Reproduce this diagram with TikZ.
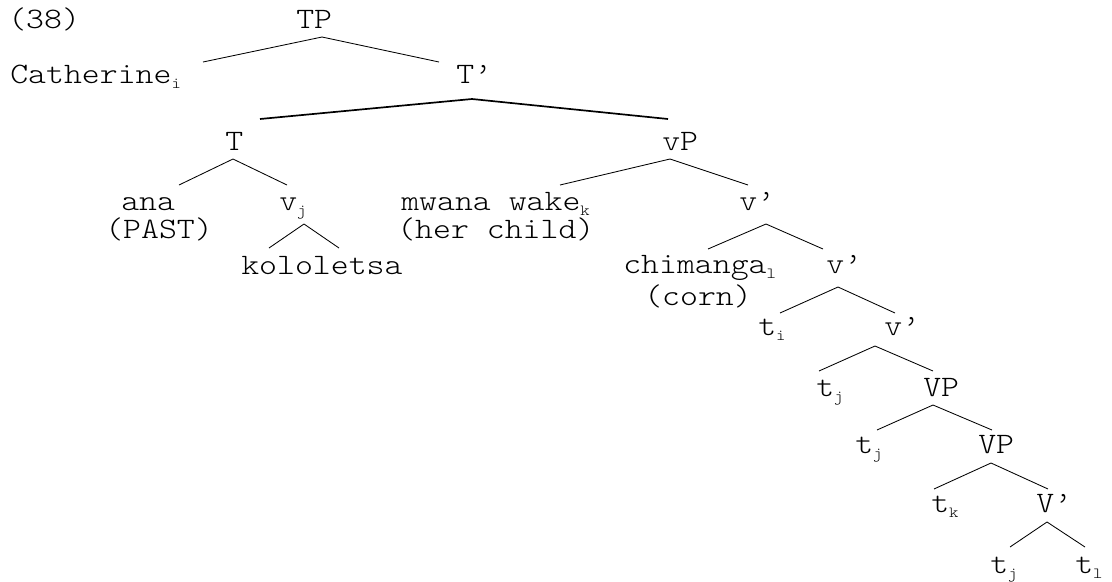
\documentclass[tikz,border=0pt]{standalone}
\usepackage{fontspec}
\newfontfamily\treefont{Latin Modern Mono Light}[FakeStretch=1.15]
\usepackage{tikz}
\usetikzlibrary{calc}
\newcommand{\idx}[1]{\raisebox{-4pt}{\fontsize{11}{11}\selectfont #1}}

\begin{document}
\begin{tikzpicture}[
    x=0.025cm, y=-0.025cm,
    wordNode/.style={anchor=base west, inner sep=0pt, font=\treefont\fontsize{21.1}{25}\selectfont},
    branchLine/.style={draw=black, line width=0.6pt},
    heavyBranch/.style={draw=black, line width=1.2pt}
]
\useasboundingbox (0,0) rectangle (1112,581);

% Top of the tree
\node[wordNode] (exNum) at (8, 28) {(38)};
\node[wordNode] (tp) at (296, 28) {TP};
\node[wordNode] (cath) at (10, 83) {Catherine\idx{i}};
\node[wordNode] (tBar) at (456, 83) {T’};
\draw[branchLine] ($(tp.base west)+(26,9)$) -- ($(cath.base west)+(193,-21)$);
\draw[branchLine] ($(tp.base west)+(26,9)$) -- ($(tBar.base west)+(-17,-21)$);

% T and vP
\node[wordNode] (tHead) at (225, 150) {T};
\node[wordNode] (vP) at (662, 150) {vP};
\draw[heavyBranch] ($(tBar.base west)+(16,16)$) -- ($(tHead.base west)+(35,-31)$);
\draw[heavyBranch] ($(tBar.base west)+(16,16)$) -- ($(vP.base west)+(6,-31)$);

% Under T
\node[wordNode] (ana) at (121, 210) {ana};
\node[wordNode] (past) at (105, 238) {(PAST)};
\node[wordNode] (vj) at (279, 210) {v\idx{j}};
\node[wordNode] (kolo) at (241, 274) {kololetsa};
\draw[branchLine] ($(tHead.base west)+(8,9)$) -- ($(ana.base west)+(58,-25)$);
\draw[branchLine] ($(tHead.base west)+(8,9)$) -- ($(vj.base west)+(8,-25)$);
\draw[branchLine] ($(vj.base west)+(25,14)$) -- ($(kolo.base west)+(28,-26)$);
\draw[branchLine] ($(vj.base west)+(25,14)$) -- ($(kolo.base west)+(98,-26)$);

% Under vP
\node[wordNode] (mwana) at (401, 210) {mwana wake\idx{k}};
\node[wordNode] (child) at (397, 238) {(her child)};
\node[wordNode] (vBarA) at (739, 210) {v’};
\draw[branchLine] ($(vP.base west)+(8,9)$) -- ($(mwana.base west)+(159,-25)$);
\draw[branchLine] ($(vP.base west)+(8,9)$) -- ($(vBarA.base west)+(9,-25)$);

\node[wordNode] (chim) at (623, 273) {chimanga\idx{l}};
\node[wordNode] (corn) at (644, 305) {(corn)};
\node[wordNode] (vBarB) at (826, 273) {v’};
\draw[branchLine] ($(vBarA.base west)+(27,14)$) -- ($(chim.base west)+(85,-24)$);
\draw[branchLine] ($(vBarA.base west)+(27,14)$) -- ($(vBarB.base west)+(-3,-24)$);

\node[wordNode] (ti) at (758, 335) {t\idx{i}};
\node[wordNode] (vBarC) at (884, 335) {v’};
\draw[branchLine] ($(vBarB.base west)+(12,14)$) -- ($(ti.base west)+(22,-22)$);
\draw[branchLine] ($(vBarB.base west)+(12,14)$) -- ($(vBarC.base west)+(11,-22)$);

% The VP shells
\node[wordNode] (tjA) at (816, 396) {t\idx{j}};
\node[wordNode] (vpA) at (923, 396) {VP};
\draw[branchLine] ($(vBarC.base west)+(-9,11)$) -- ($(tjA.base west)+(3,-25)$);
\draw[branchLine] ($(vBarC.base west)+(-9,11)$) -- ($(vpA.base west)+(10,-25)$);

\node[wordNode] (tjB) at (855, 453) {t\idx{j}};
\node[wordNode] (vpB) at (978, 453) {VP};
\draw[branchLine] ($(vpA.base west)+(10,9)$) -- ($(tjB.base west)+(22,-23)$);
\draw[branchLine] ($(vpA.base west)+(10,9)$) -- ($(vpB.base west)+(14,-23)$);

\node[wordNode] (tk) at (931, 512) {t\idx{k}};
\node[wordNode] (vBarD) at (1036, 512) {V’};
\draw[branchLine] ($(vpB.base west)+(13,10)$) -- ($(tk.base west)+(3,-23)$);
\draw[branchLine] ($(vpB.base west)+(13,10)$) -- ($(vBarD.base west)+(12,-23)$);

\node[wordNode] (tjC) at (990, 573) {t\idx{j}};
\node[wordNode] (tl) at (1075, 573) {t\idx{l}};
\draw[branchLine] ($(vBarD.base west)+(11,10)$) -- ($(tjC.base west)+(20,-26)$);
\draw[branchLine] ($(vBarD.base west)+(11,10)$) -- ($(tl.base west)+(10,-26)$);

\end{tikzpicture}
\end{document}
